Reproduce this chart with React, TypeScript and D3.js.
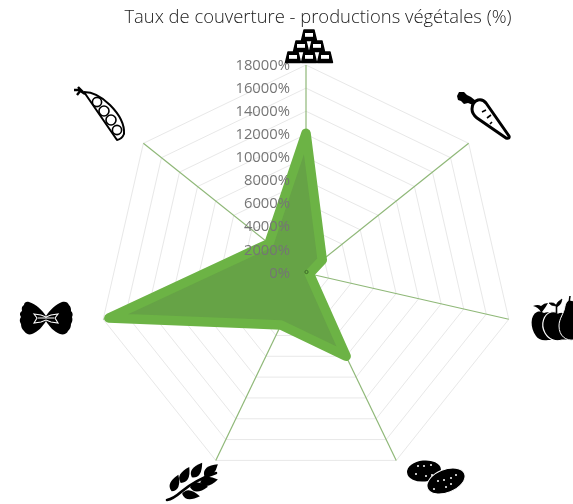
import React from "react";
import * as d3 from "d3";

const title = "Taux de couverture - productions végétales (%)";
const categories = ["Céréales transformées", "Légumes", "Fruits", "Pommes de terre", "Céréales", "Pâtes", "Légumineuses"];
const values = [12100, 1800, 300, 8000, 5000, 17500, 4100];
const ticks = [0, 2000, 4000, 6000, 8000, 10000, 12000, 14000, 16000, 18000];

const W = 573, H = 504, CX = 306, CY = 273, R = 208;
const FONT = "'Open Sans', 'Noto Sans', sans-serif";

const r = d3.scaleLinear().domain([0, 18000]).range([0, R]);
const angle = d3.scalePoint<string>().domain(categories).range([0, (2 * Math.PI * 6) / 7]);

const closed = d3.lineRadial<[number, number]>().angle((d) => d[0]).radius((d) => d[1]).curve(d3.curveLinearClosed);

function Bricks() {
  const bricks = [[301.5, 30], [293.5, 41], [309.5, 41], [285.5, 52], [301.5, 52], [317.5, 52]];
  return (
    <g>
      {bricks.map(([x, y], i) => (
        <g key={i}>
          <path d={`M${x + 2.5} ${y} h10 l2.5 10.5 h-15 z`} fill="#000" stroke="#000" strokeWidth={1.4} strokeLinejoin="round" />
          <rect x={x + 3.5} y={y + 3} width={8} height={3.8} fill="#fff" />
        </g>
      ))}
    </g>
  );
}

function Carrot() {
  return (
    <g>
      <path d="M457 96 L459 92 L464 92 L467 95 L471 97 L476 101 L473 105 L468 103 L464 104 L461 101 L458 100 z" fill="#000" />
      <path d="M472 109 Q472 102 478 100 Q483 99 486 103 L509 136 Q510 139 506 138 L477 118 Q472 114 472 109 z" fill="#fff" stroke="#000" strokeWidth={3} strokeLinejoin="round" />
      <path d="M482 112 l4 -2 M487 118 l4 -3 M490 124 l2 -2" stroke="#000" strokeWidth={1.6} fill="none" />
    </g>
  );
}

function Fruits() {
  return (
    <g>
      <path d="M548 340 C542 341 538 339 536 336 C530 328 530 315 537 312 C540 311 542 312 544 313 C548 311 552 313 553 316 L556 340 z" fill="#000" />
      <path d="M541 312 Q538 307 533 306 Q538 304 541 306 Q544 303 548 303 Q546 307 542 312 z" fill="#000" />
      <path d="M562 340 C556 342 549 340 545 333 C540 324 544 314 551 312 C554 311 556 312 558 313 C562 311 566 313 568 316 L572 340 z" fill="#000" stroke="#fff" strokeWidth={1.2} />
      <path d="M556 313 L556 306 Q551 306 549 303 Q554 302 556 305 Q558 301 562 299 Q562 304 557 307 L557 313" fill="#000" stroke="#000" strokeWidth={0.6} />
      <path d="M574 340 C566 341 559 336 559 326 C559 318 564 314 565 306 C566 302 568 300 570 300 L574 301 z" fill="#000" stroke="#fff" strokeWidth={1} />
      <path d="M569 303 L570 296" stroke="#000" strokeWidth={1.5} />
    </g>
  );
}

function Potatoes() {
  const dots1 = [[418, 466], [424, 466], [431, 465], [416, 474], [426, 476], [432, 475]];
  const dots2 = [[438, 481], [444, 480], [451, 478], [456, 475], [434, 489], [446, 487], [451, 484]];
  return (
    <g>
      <ellipse cx={424} cy={471} rx={17} ry={10.5} transform="rotate(-6 424 471)" fill="#000" />
      <ellipse cx={446} cy={481} rx={20} ry={11.5} transform="rotate(-22 446 481)" fill="#000" stroke="#fff" strokeWidth={1} />
      {[...dots1, ...dots2].map(([x, y], i) => (
        <circle key={i} cx={x} cy={y} r={1} fill="#fff" />
      ))}
    </g>
  );
}

function Wheat() {
  const leaves = [[175, 483, -68], [185, 475, -62], [197, 470, -55], [211, 470, -40], [191, 495, 8], [199, 487, -2], [209, 481, -10]];
  return (
    <g>
      <path d="M167 500 Q173 499 181 492 Q195 480 216 473" fill="none" stroke="#000" strokeWidth={2.6} strokeLinecap="round" />
      {leaves.map(([x, y, a], i) => (
        <path key={i} transform={`translate(${x} ${y}) rotate(${a})`} d="M-9 0 Q-4 -9 9 0 Q-4 9 -9 0 z" fill="#000" />
      ))}
    </g>
  );
}

function Pasta() {
  return (
    <g>
      <path
        d="M46 316 C42 310 36 304 29 302 C26 301 24 303 24 305 C21 307 22 309 22 311 C19 313 20 315 21 317 C19 320 20 322 21 324 C21 327 22 329 24 331 C26 334 29 335 32 334 C38 332 43 326 46 321 C49 326 54 332 60 334 C63 335 67 334 68 331 C70 329 71 327 71 324 C72 322 73 320 72 317 C73 315 73 313 71 311 C71 309 71 307 69 305 C68 302 65 301 62 302 C56 304 50 310 46 316 z"
        fill="#000"
      />
      <path d="M34 314 L41 315 L46 317 L51 315 L58 314 L55 318 L58 323 L51 322 L46 320 L41 322 L34 323 L37 318 z M38 318 H54" fill="none" stroke="#fff" strokeWidth={1.1} />
    </g>
  );
}

function Pea() {
  return (
    <g>
      <path d="M74 90 L79 90 L85 94 M77 95 L81 90 M78 87 L83 92" stroke="#000" strokeWidth={2.4} fill="none" />
      <path d="M84 92 Q97 92 110 105 Q125 120 124 134 Q122 139 117 140 L84 92 z" fill="#fff" stroke="#000" strokeWidth={2} strokeLinejoin="round" />
      {[[97, 102, 4.6], [104, 111, 5], [111, 120, 5], [117, 130, 4.6]].map(([x, y, rad], i) => (
        <circle key={i} cx={x} cy={y} r={rad} fill="none" stroke="#000" strokeWidth={1.6} />
      ))}
    </g>
  );
}

export default function App() {
  const ring = (v: number) => closed(categories.map((c) => [angle(c)!, r(v)]));
  const shape = closed(categories.map((c, i) => [angle(c)!, r(values[i])]));
  return (
    <svg width={W} height={H} style={{ position: "absolute", left: 0, top: 0, display: "block", background: "#fff", filter: "blur(0.35px)" }}>
      <text x={318} y={23} textAnchor="middle" fontFamily={FONT} fontSize={18.4} fontWeight={300} fill="#222">
        {title}
      </text>
      <g transform={`translate(${CX} ${CY})`}>
        {ticks.slice(1).map((t) => (
          <path key={t} d={ring(t)!} fill="none" stroke="#e8e8e8" strokeWidth={1} />
        ))}
        {categories.map((c) => {
          const a = angle(c)!;
          return (
            <line key={c} x1={0} y1={0} x2={R * Math.sin(a)} y2={-R * Math.cos(a)} stroke="#8fb878" strokeWidth={1.2} />
          );
        })}
        <path d={shape!} fill="#66a346" stroke="#6cb345" strokeWidth={9.5} strokeLinejoin="round" />
        <circle cx={0.5} cy={-1} r={1.6} fill="none" stroke="#3d6b2a" strokeWidth={1} />
        {ticks.map((t) => (
          <text key={t} x={-16} y={-r(t) - 0.5} dy="0.35em" textAnchor="end" fontFamily={FONT} fontSize={14.8} fill="#757575">
            {`${t}%`}
          </text>
        ))}
      </g>
      <Bricks />
      <Carrot />
      <Fruits />
      <Potatoes />
      <Wheat />
      <Pasta />
      <Pea />
    </svg>
  );
}
